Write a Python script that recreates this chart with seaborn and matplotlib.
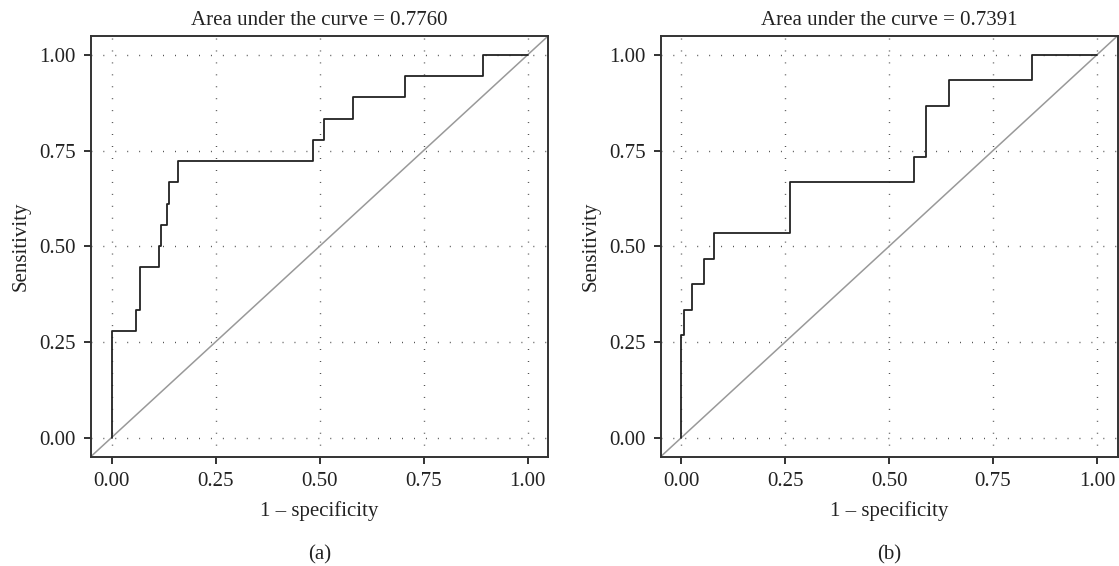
import numpy as np
import pandas as pd
import matplotlib
matplotlib.use('Agg')
import matplotlib.pyplot as plt
import seaborn as sns

# ROC points (1 - specificity, sensitivity), staircase corners
fpr_a = [0, 0.059, 0.069, 0.115, 0.118, 0.134, 0.138, 0.160, 0.485, 0.510, 0.580, 0.705, 0.893, 1.0]
tpr_a = [0, 0.2778, 0.3333, 0.4444, 0.5, 0.5556, 0.6111, 0.6667, 0.7222, 0.7778, 0.8333, 0.8889, 0.9444, 1.0]
auc_a = 0.7760

fpr_b = [0, 0.006, 0.025, 0.054, 0.078, 0.262, 0.560, 0.589, 0.645, 0.845, 1.0]
tpr_b = [0, 0.2667, 0.3333, 0.4, 0.4667, 0.5333, 0.6667, 0.7333, 0.8667, 0.9333, 1.0]
auc_b = 0.7391

ticks = [0.00, 0.25, 0.50, 0.75, 1.00]
tick_labels = ['0.00', '0.25', '0.50', '0.75', '1.00']
panels = ['(a)', '(b)']

sns.set_style('white')
plt.rcParams['font.family'] = ['Liberation Serif', 'DejaVu Serif']

fig = plt.figure(figsize=(11.19, 5.66), dpi=100)
ax_a = fig.add_axes([0.0811, 0.1931, 0.409, 0.7438])
ax_b = fig.add_axes([0.5904, 0.1931, 0.4084, 0.7438])

for ax, fpr, tpr, auc, panel in [(ax_a, fpr_a, tpr_a, auc_a, panels[0]),
                                 (ax_b, fpr_b, tpr_b, auc_b, panels[1])]:
    df = pd.DataFrame({'fpr': fpr, 'tpr': tpr})
    ax.set_xlim(-0.05, 1.05)
    ax.set_ylim(-0.05, 1.05)
    # dotted grid at the major ticks
    for t in ticks:
        ax.axvline(t, color='#333333', lw=1.0, ls=(0, (0.6, 8.0)), zorder=0)
        ax.axhline(t, color='#333333', lw=1.0, ls=(0, (0.6, 8.0)), zorder=0)
    ax.axline((0, 0), (1, 1), color='#999999', lw=1.1, zorder=1)
    sns.lineplot(data=df, x='fpr', y='tpr', ax=ax, color='#222222', lw=1.3,
                 drawstyle='steps-pre', estimator=None, zorder=2)
    ax.set_xticks(ticks)
    ax.set_yticks(ticks)
    ax.set_xticklabels(tick_labels)
    ax.set_yticklabels(tick_labels)
    ax.tick_params(direction='out', length=5, width=1.3, color='#222222',
                   labelsize=15, labelcolor='#222222', pad=6,
                   bottom=True, left=True)
    for s in ax.spines.values():
        s.set_color('#333333')
        s.set_linewidth(1.4)
    ax.set_xlabel('1 – specificity', fontsize=15, color='#222222', labelpad=7)
    ax.set_ylabel('Sensitivity', fontsize=15, color='#222222', labelpad=6)
    ax.set_title('Area under the curve = %.4f' % auc, fontsize=15, color='#222222', pad=8)
    ax.text(0.5, -0.2335, panel, transform=ax.transAxes, ha='center', va='center',
            fontsize=15, color='#222222')

fig.savefig('out.png', dpi=100)
